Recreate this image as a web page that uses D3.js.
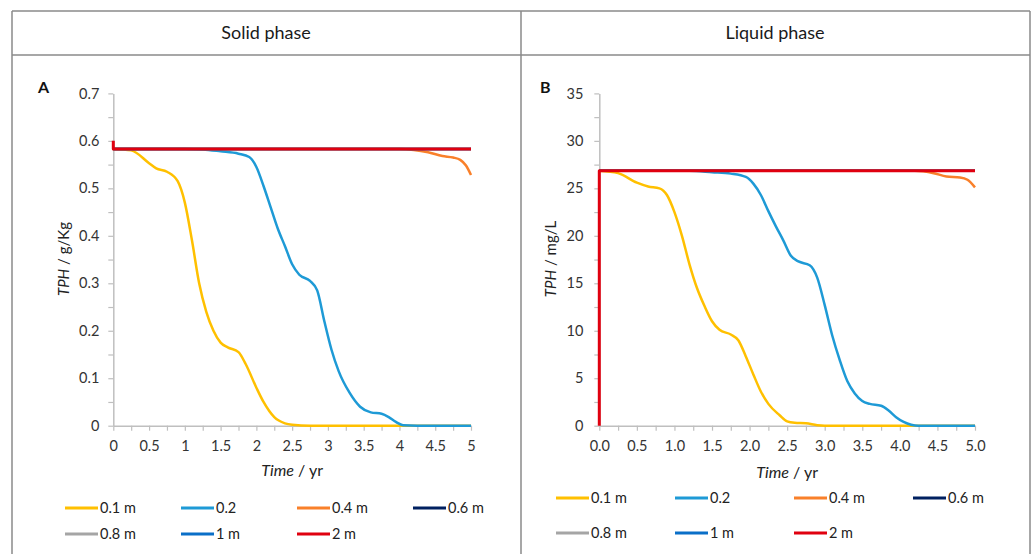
<!DOCTYPE html>
<html><head><meta charset="utf-8">
<script src="https://cdn.jsdelivr.net/npm/d3@7"></script>
<style>
body{margin:0;background:#fff;}
svg{display:block;font-family:Lato,"Noto Sans",sans-serif;}
</style></head><body>
<svg id="c" width="1033" height="554"></svg>
<script>
// ---------- data ----------
const seriesNames = ["0.1 m","0.2","0.4 m","0.6 m","0.8 m","1 m","2 m"];
const seriesColors = ["#FFC000","#1E9AD6","#F9802A","#002060","#A5A5A5","#0A6FC8","#E0000F"];

const xTickValues = [0,0.5,1,1.5,2,2.5,3,3.5,4,4.5,5];
const xTickLabelsA = ["0","0.5","1","1.5","2","2.5","3","3.5","4","4.5","5"];
const xTickLabelsB = ["0.0","0.5","1.0","1.5","2.0","2.5","3.0","3.5","4.0","4.5","5.0"];
const yTickValuesA = [0,0.1,0.2,0.3,0.4,0.5,0.6,0.7];
const yTickValuesB = [0,5,10,15,20,25,30,35];

// Solid phase (g/Kg): [time yr, TPH]
const solid01 = [[0,0.583],[0.25,0.58],[0.5,0.553],[0.6,0.542],[0.75,0.535],[0.9,0.515],[1.0,0.47],[1.1,0.39],[1.2,0.3],[1.3,0.24],[1.4,0.2],[1.5,0.175],[1.6,0.165],[1.75,0.155],[1.85,0.13],[2.0,0.08],[2.1,0.05],[2.25,0.018],[2.4,0.005],[2.5,0.002],[2.75,0],[5,0]];
const solid02 = [[0,0.583],[1.0,0.583],[1.25,0.582],[1.5,0.578],[1.75,0.573],[1.9,0.566],[2.0,0.545],[2.1,0.505],[2.2,0.46],[2.3,0.415],[2.4,0.378],[2.5,0.34],[2.6,0.318],[2.75,0.305],[2.85,0.285],[2.95,0.22],[3.05,0.16],[3.15,0.115],[3.3,0.07],[3.45,0.04],[3.6,0.028],[3.75,0.025],[3.85,0.018],[3.95,0.008],[4.05,0.001],[4.25,0],[5,0]];
const solid04 = [[0,0.583],[4.0,0.583],[4.2,0.581],[4.4,0.576],[4.6,0.568],[4.75,0.565],[4.85,0.56],[4.93,0.548],[5.0,0.528]];
const solid06 = [[0,0.583],[5,0.583]];
const solid08 = [[0,0.583],[5,0.583]];
const solid1  = [[0,0.583],[5,0.583]];
const solid2  = [[0,0.6],[0,0.583],[5,0.583]];

// Liquid phase (mg/L)
const liquid01 = [[0,26.85],[0.25,26.6],[0.5,25.6],[0.65,25.2],[0.8,25.0],[0.9,24.3],[1.0,22.5],[1.1,20.0],[1.2,17.0],[1.3,14.5],[1.4,12.6],[1.5,11.0],[1.6,10.1],[1.75,9.6],[1.85,9.0],[1.95,7.3],[2.05,5.4],[2.15,3.6],[2.25,2.3],[2.4,1.1],[2.5,0.45],[2.6,0.3],[2.75,0.25],[2.9,0.05],[3.0,0],[5,0]];
const liquid02 = [[0,26.85],[1.2,26.85],[1.5,26.7],[1.75,26.55],[1.95,26.2],[2.05,25.5],[2.15,24.3],[2.25,22.6],[2.35,21.0],[2.45,19.5],[2.55,17.9],[2.65,17.3],[2.8,16.9],[2.9,15.6],[3.0,12.7],[3.1,9.5],[3.2,6.9],[3.3,4.7],[3.4,3.4],[3.5,2.6],[3.6,2.3],[3.75,2.1],[3.85,1.6],[3.95,0.9],[4.05,0.4],[4.15,0.1],[4.25,0],[5,0]];
const liquid04 = [[0,26.85],[4.2,26.85],[4.45,26.6],[4.62,26.25],[4.8,26.15],[4.9,25.9],[5.0,25.1]];
const liquid06 = [[0,26.85],[5,26.85]];
const liquid08 = [[0,26.85],[5,26.85]];
const liquid1  = [[0,26.85],[5,26.85]];
const liquid2  = [[0,0],[0,26.85],[5,26.85]];

// ---------- drawing ----------
const svg = d3.select("#c");
const frame = "#8a8a8a";
const fr = svg.append("g").attr("stroke",frame).attr("stroke-width",1.5).attr("fill","none");
fr.append("line").attr("x1",12).attr("x2",1030).attr("y1",11).attr("y2",11);
fr.append("line").attr("x1",12).attr("x2",1030).attr("y1",55).attr("y2",55);
fr.append("line").attr("x1",12).attr("x2",12).attr("y1",11).attr("y2",554);
fr.append("line").attr("x1",521).attr("x2",521).attr("y1",11).attr("y2",554);
fr.append("line").attr("x1",1030).attr("x2",1030).attr("y1",11).attr("y2",554);

svg.append("text").attr("x",266).attr("y",39).attr("text-anchor","middle").attr("font-size",18).attr("fill","#1a1a1a").text("Solid phase");
svg.append("text").attr("x",775).attr("y",39).attr("text-anchor","middle").attr("font-size",18).attr("fill","#1a1a1a").text("Liquid phase");

function panel(o){
  const x = d3.scaleLinear().domain([0,5]).range([o.x0,o.x1]);
  const y = d3.scaleLinear().domain([0,o.ymax]).range([425.7,93.4]);
  const g = svg.append("g");
  const xAll = d3.range(0,5.001,0.25);
  const yAll = d3.range(0,o.ymax*1.0001,o.ymax/14);
  const xa = g.append("g").attr("transform",`translate(0,${y(0)})`)
    .call(d3.axisBottom(x).tickValues(xAll).tickSize(5).tickSizeOuter(0).tickPadding(10)
      .tickFormat(v=>{const i=xTickValues.findIndex(t=>Math.abs(t-v)<1e-6);return i>=0?o.xLabels[i]:"";}));
  const ya = g.append("g").attr("transform",`translate(${x(0)},0)`)
    .call(d3.axisLeft(y).tickValues(yAll).tickSize(5).tickSizeOuter(0).tickPadding(o.ypad)
      .tickFormat(v=>{const i=o.yTicks.findIndex(t=>Math.abs(t-v)<1e-6);return i>=0?String(o.yTicks[i]):"";}));
  [xa,ya].forEach(a=>{
    a.select(".domain").attr("stroke","#bfbfbf").attr("stroke-width",1.5);
    a.selectAll(".tick line").attr("stroke","#bfbfbf").attr("stroke-width",1.2);
    a.selectAll("text").attr("font-size",14.5).attr("fill","#333").attr("font-family","Lato,'Noto Sans',sans-serif");
  });
  o.data.forEach((d,i)=>{
    const smooth = d.length>3;
    const line = d3.line().x(p=>x(p[0])).y(p=>y(p[1])).curve(smooth?d3.curveMonotoneX:d3.curveLinear);
    g.append("path").attr("d",line(d)).attr("fill","none").attr("stroke",seriesColors[i])
      .attr("stroke-width", i===6?3:2.5).attr("stroke-linejoin","round");
  });
  g.append("text").attr("x",o.lx).attr("y",93).attr("font-size",16).attr("font-weight","bold").attr("fill","#111").text(o.letter);
  const yt = g.append("text").attr("transform",`translate(${o.ytx},259) rotate(-90)`).attr("text-anchor","middle").attr("font-size",15).attr("fill","#222");
  yt.append("tspan").attr("font-style","italic").text("TPH");
  yt.append("tspan").text(" / "+o.unit);
  const xt = g.append("text").attr("x",(o.x0+o.x1)/2).attr("y",o.xty).attr("text-anchor","middle").attr("font-size",16).attr("fill","#222");
  xt.append("tspan").attr("font-style","italic").text("Time");
  xt.append("tspan").text(" / yr");
  seriesNames.forEach((n,i)=>{
    const col=i%4,row=Math.floor(i/4);
    const lx=o.legX[col], ly=o.legY[row];
    g.append("line").attr("x1",lx).attr("x2",lx+33).attr("y1",ly).attr("y2",ly).attr("stroke",seriesColors[i]).attr("stroke-width",3);
    g.append("text").attr("x",lx+35).attr("y",ly).attr("dy","0.35em").attr("font-size",14.5).attr("fill","#222").text(n);
  });
}

panel({x0:113.3,x1:471,ymax:0.7,yTicks:yTickValuesA,xLabels:xTickLabelsA,ypad:9,
  data:[solid01,solid02,solid04,solid06,solid08,solid1,solid2],
  letter:"A",lx:38,ytx:69,unit:"g/Kg",xty:476,legX:[65,181,297,413],legY:[508,534]});
panel({x0:599.3,x1:975,ymax:35,yTicks:yTickValuesB,xLabels:xTickLabelsB,ypad:11,
  data:[liquid01,liquid02,liquid04,liquid06,liquid08,liquid1,liquid2],
  letter:"B",lx:540,ytx:556,unit:"mg/L",xty:478,legX:[556,675,794,913],legY:[498,533]});
</script></body></html>
